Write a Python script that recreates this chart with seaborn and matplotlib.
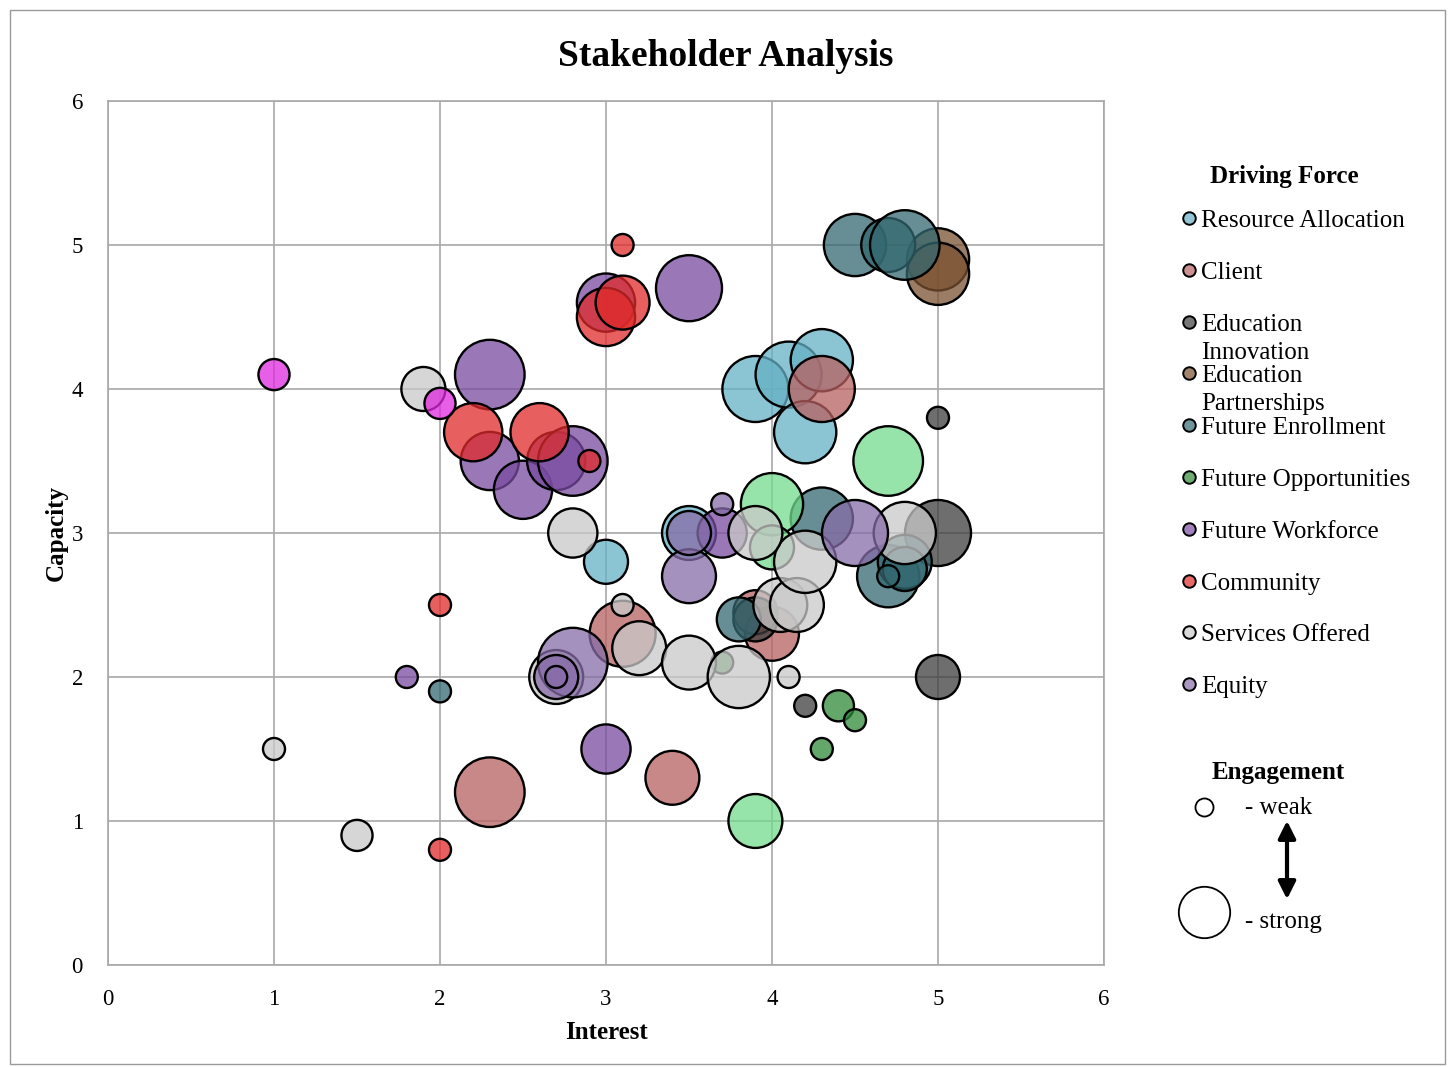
import pandas as pd
import seaborn as sns
import matplotlib.pyplot as plt
from matplotlib.lines import Line2D
from matplotlib.patches import Rectangle, FancyArrowPatch

# legend entries (in drawing order) and the two extra series not listed in the legend
legend_forces = ["Resource Allocation", "Client", "Education\nInnovation", "Education\nPartnerships",
                 "Future Enrollment", "Future Opportunities", "Future Workforce", "Community",
                 "Services Offered", "Equity"]
colors = {
    "Resource Allocation": "#65b0c5",
    "Client": "#b86060",
    "Education\nInnovation": "#3d3d3d",
    "Education\nPartnerships": "#7a5030",
    "Future Enrollment": "#336870",
    "Future Opportunities": "#2f8a38",
    "Opportunities (light)": "#73db8d",
    "Future Workforce": "#794ba1",
    "Community": "#e02a2a",
    "Services Offered": "#c9c9c9",
    "Equity": "#876ca8",
    "Community (pink)": "#de29de",
}

# one row per stakeholder: interest, capacity, engagement (1 weak .. 10 strong), driving force
interest = [
    3.9, 4.1, 4.3, 4.2, 3.0, 3.5,                       # Resource Allocation
    4.3, 2.3, 3.4, 3.1, 4.0, 3.9,                       # Client
    5.0, 5.0, 5.0, 4.2, 3.9,                            # Education Innovation
    5.0, 5.0,                                           # Education Partnerships
    4.5, 4.7, 4.8, 4.3, 4.7, 4.8, 4.8, 4.7, 2.0, 3.8,   # Future Enrollment
    4.4, 4.5, 4.3, 3.7,                                 # Future Opportunities
    4.7, 4.0, 4.0, 3.9,                                 # Opportunities (light)
    3.5, 3.0, 2.3, 2.3, 2.5, 2.7, 2.8, 1.8, 3.0, 3.7,   # Future Workforce
    3.1, 3.0, 3.1, 2.2, 2.6, 2.9, 2.0, 2.0,             # Community
    1.9, 2.8, 1.0, 1.5, 3.1, 3.2, 2.7, 3.5, 3.8, 4.1,
    4.05, 4.15, 4.2, 3.9, 4.8,                          # Services Offered
    2.8, 2.7, 2.7, 3.5, 3.5, 3.7, 4.5,                  # Equity
    1.0, 2.0,                                           # Community (pink)
]
capacity = [
    4.0, 4.1, 4.2, 3.7, 2.8, 3.0,
    4.0, 1.2, 1.3, 2.3, 2.3, 2.45,
    3.8, 3.0, 2.0, 1.8, 2.4,
    4.9, 4.8,
    5.0, 5.0, 5.0, 3.1, 2.7, 2.8, 2.75, 2.7, 1.9, 2.4,
    1.8, 1.7, 1.5, 2.1,
    3.5, 3.2, 2.9, 1.0,
    4.7, 4.6, 4.1, 3.5, 3.3, 3.5, 3.5, 2.0, 1.5, 3.0,
    5.0, 4.5, 4.6, 3.7, 3.7, 3.5, 2.5, 0.8,
    4.0, 3.0, 1.5, 0.9, 2.5, 2.2, 2.0, 2.1, 2.0, 2.0,
    2.5, 2.5, 2.8, 3.0, 3.0,
    2.1, 2.0, 2.0, 2.7, 3.0, 3.2, 3.0,
    4.1, 3.9,
]
engagement = [
    9, 9, 8, 8, 4, 6,
    9, 10, 6, 9, 6, 4,
    1, 9, 4, 1, 4,
    8, 8,
    8, 6, 10, 8, 8, 6, 4, 1, 1, 4,
    2, 1, 1, 1,
    10, 8, 4, 6,
    9, 7, 10, 7, 7, 7, 10, 1, 5, 5,
    1, 7, 6, 7, 7, 1, 1, 1,
    4, 5, 1, 2, 1, 6, 6, 6, 8, 1,
    6, 6, 8, 6, 8,
    10, 4, 1, 6, 4, 1, 9,
    2, 2,
]
force = (["Resource Allocation"] * 6 + ["Client"] * 6 + ["Education\nInnovation"] * 5
         + ["Education\nPartnerships"] * 2 + ["Future Enrollment"] * 10
         + ["Future Opportunities"] * 4 + ["Opportunities (light)"] * 4
         + ["Future Workforce"] * 10 + ["Community"] * 8 + ["Services Offered"] * 15
         + ["Equity"] * 7 + ["Community (pink)"] * 2)

df = pd.DataFrame({"Interest": interest, "Capacity": capacity,
                   "Engagement": engagement, "Force": force})

W, H = 1452, 1067


def px(x, y):
    return x / W, 1 - y / H


sns.set_theme(style="whitegrid")
plt.rcParams['font.family'] = ['Liberation Serif', 'DejaVu Serif']
plt.rcParams['text.color'] = 'black'
plt.rcParams['axes.labelcolor'] = 'black'

fig = plt.figure(figsize=(W / 100, H / 100), dpi=100)
ax = fig.add_axes([108 / W, 1 - 965 / H, (1104 - 108) / W, (965 - 101) / H])
ax.set_axisbelow(True)

sns.scatterplot(data=df, x="Interest", y="Capacity", hue="Force", size="Engagement",
                palette=colors, sizes=(251, 2510), size_norm=(1, 10),
                edgecolor="black", linewidth=1.7, legend=False, ax=ax)
pc = ax.collections[0]
fc = pc.get_facecolors()
fc[:, 3] = 0.75
pc.set_facecolors(fc)
pc.set_edgecolor("black")

ax.set_xlim(0, 6)
ax.set_ylim(0, 6)
ax.set_xticks(range(7))
ax.set_yticks(range(7))
ax.grid(True, color="#a8a8a8", linewidth=1.2)
for sp in ax.spines.values():
    sp.set_visible(True)
    sp.set_color("#a8a8a8")
    sp.set_linewidth(1.2)
ax.tick_params(length=0, labelsize=16.5, colors="black")
ax.tick_params(axis="x", pad=17)
ax.tick_params(axis="y", pad=18)
ax.set_xlabel("Interest", fontsize=18, fontweight="bold", labelpad=8)
ax.set_ylabel("Capacity", fontsize=18, fontweight="bold", labelpad=3)

fig.suptitle("Stakeholder Analysis", fontsize=27, fontweight="bold", y=px(0, 56)[1], va="center")

# Driving Force legend
fig.text(*px(1284, 177), "Driving Force", fontsize=18, fontweight="bold", ha="center", va="center")
for i, name in enumerate(legend_forces):
    y = 221 + i * 51.8
    rgba = list(plt.matplotlib.colors.to_rgba(colors[name]))
    rgba[3] = 0.7
    fig.add_artist(Line2D([px(1189, 0)[0]], [px(0, y - 3)[1]], marker="o", markersize=9,
                          markerfacecolor=tuple(rgba), markeredgecolor="black",
                          markeredgewidth=1.4, linestyle="none", transform=fig.transFigure))
    for k, line in enumerate(name.split("\n")):
        fig.text(*px(1201, y + k * 28), line, fontsize=18, ha="left", va="center")

# Engagement legend
fig.text(*px(1278, 772), "Engagement", fontsize=18, fontweight="bold", ha="center", va="center")
for (cy, ms, label, ty) in [(807, 13, "- weak", 808), (912, 37, "- strong", 922)]:
    fig.add_artist(Line2D([px(1204, 0)[0]], [px(0, cy)[1]], marker="o", markersize=ms,
                          markerfacecolor="white", markeredgecolor="black",
                          markeredgewidth=1.3, linestyle="none", transform=fig.transFigure))
    fig.text(*px(1245, ty), label, fontsize=18, ha="left", va="center")
fig.add_artist(FancyArrowPatch(px(1287, 818), px(1287, 902), arrowstyle="<|-|>",
                               mutation_scale=26, color="black", linewidth=3,
                               transform=fig.transFigure))

# outer chart frame
fig.add_artist(Rectangle(px(10, 1064), 1435 / W, 1054 / H, fill=False,
                         edgecolor="#9a9a9a", linewidth=1, transform=fig.transFigure))

fig.savefig("out.png", dpi=100)
